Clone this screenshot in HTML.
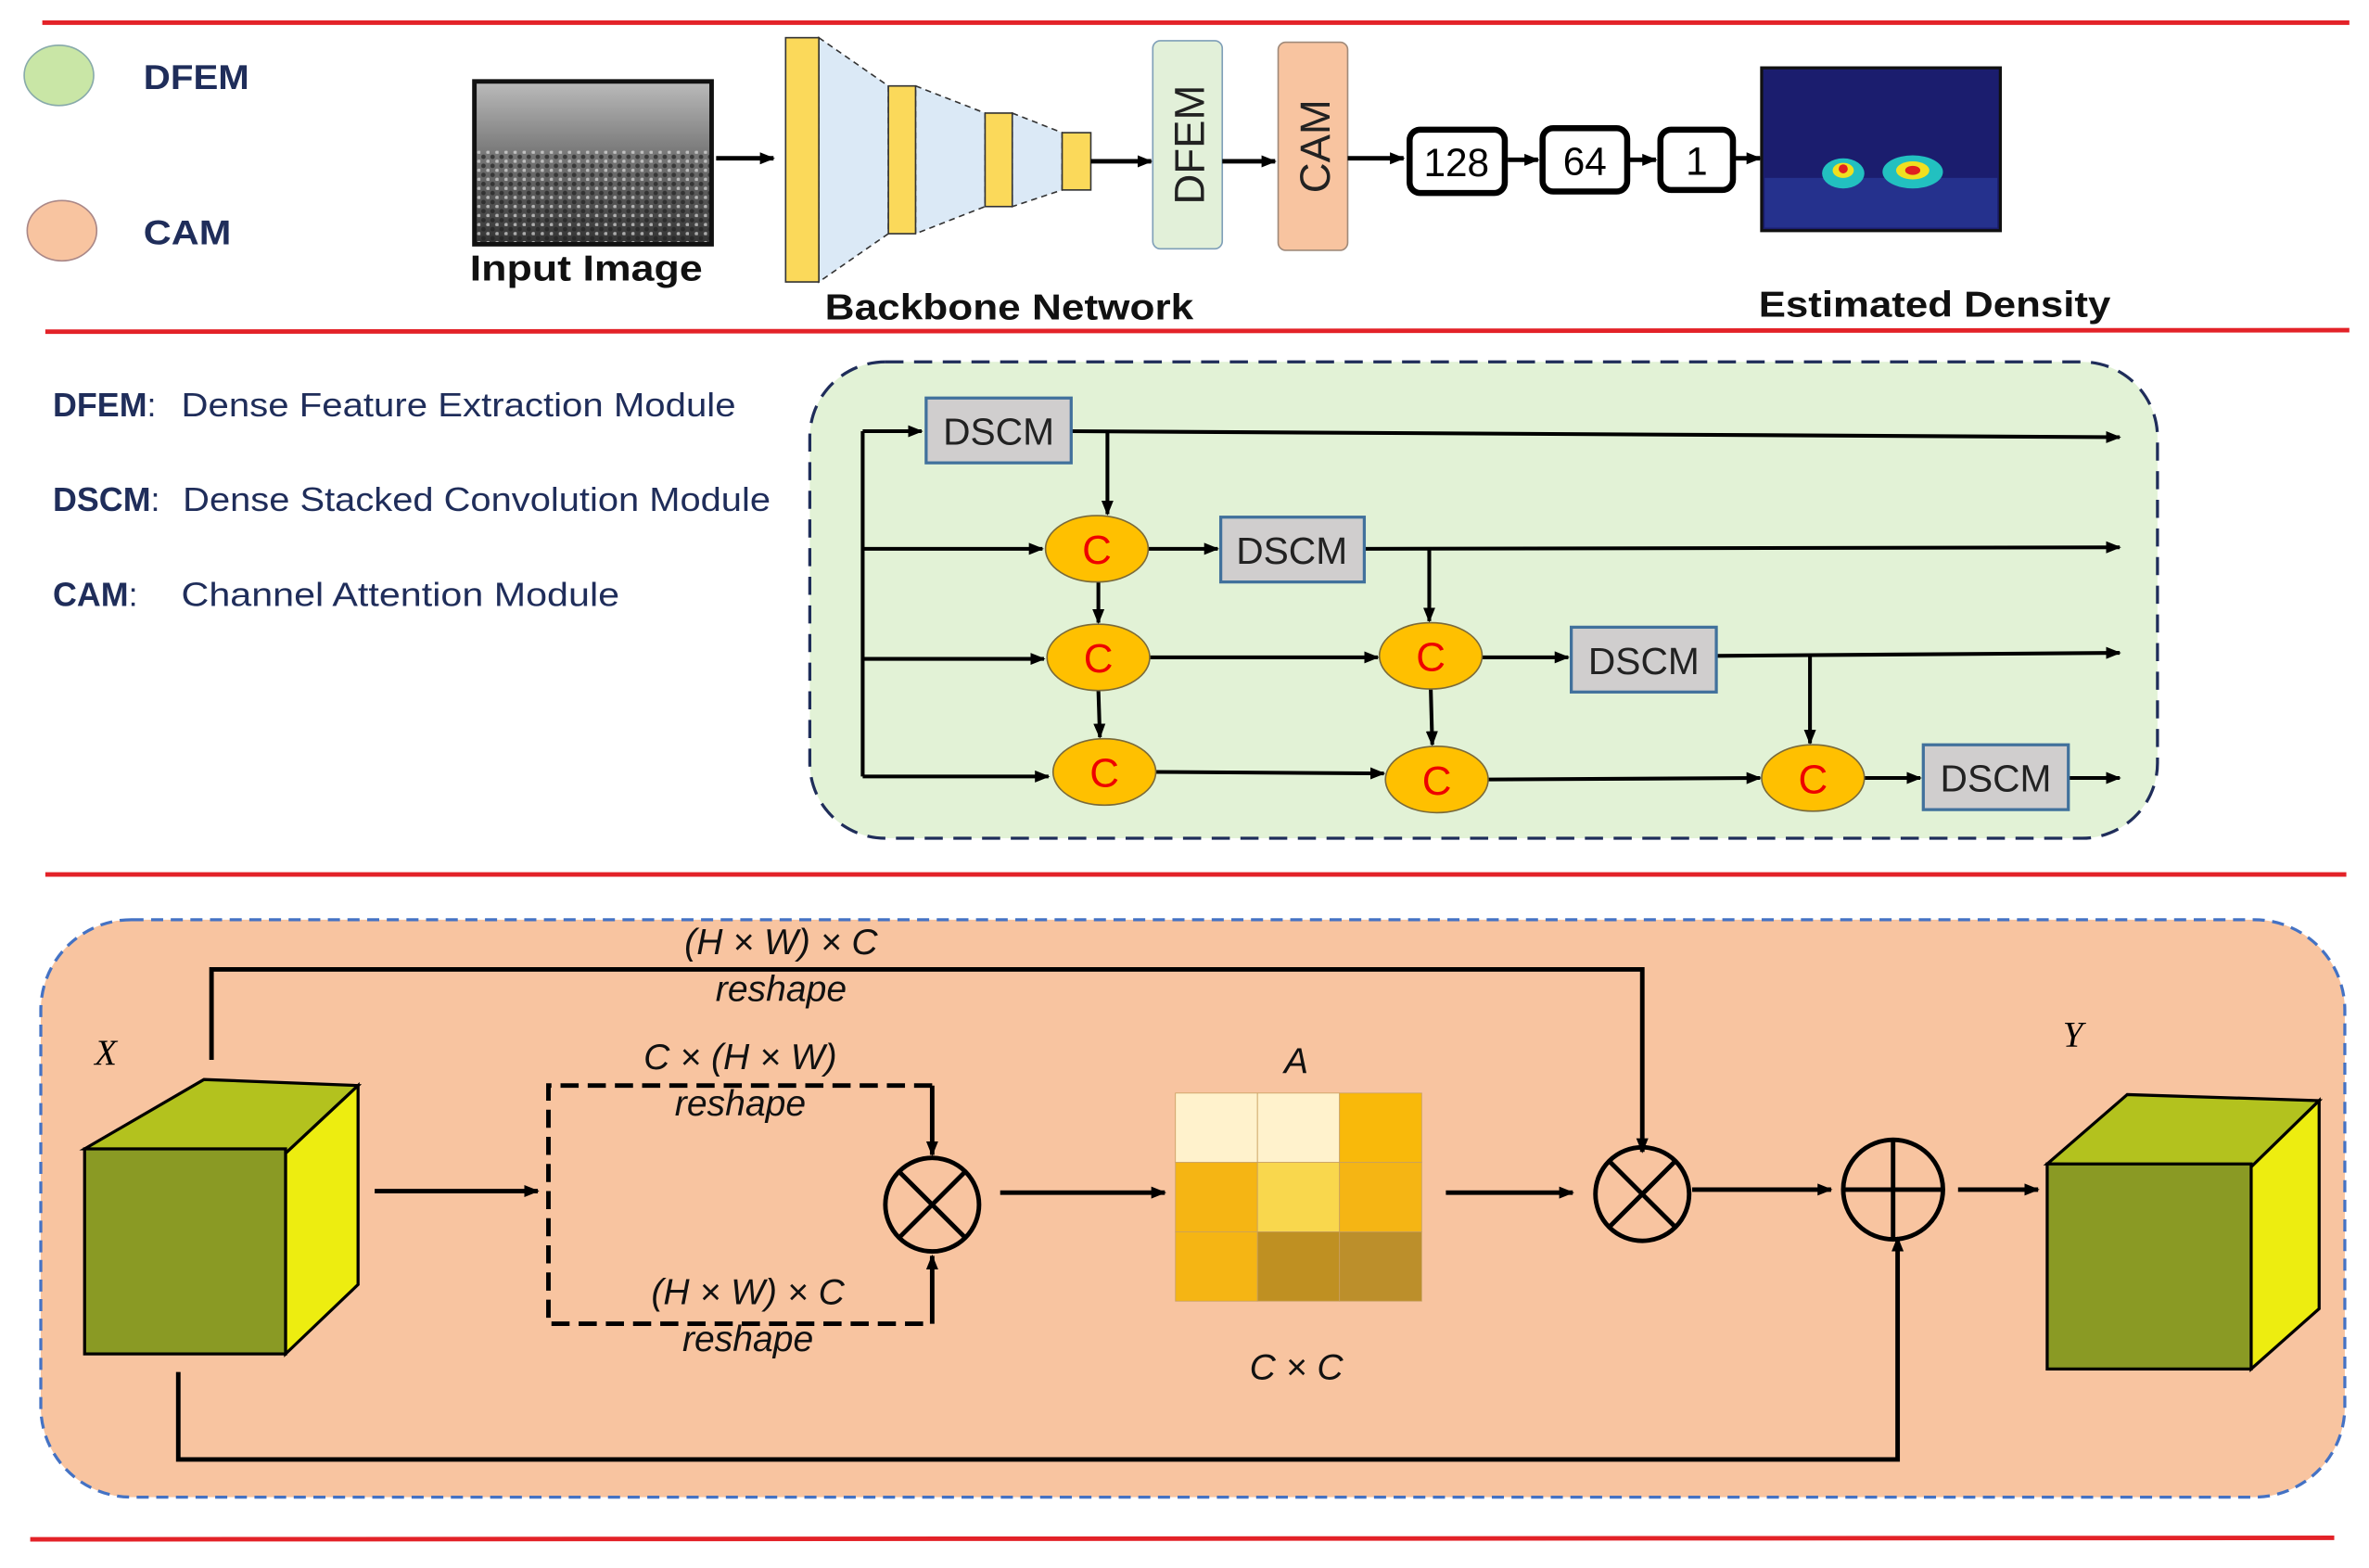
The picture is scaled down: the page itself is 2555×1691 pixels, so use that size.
<!DOCTYPE html>
<html><head><meta charset="utf-8"><style>
html,body{margin:0;padding:0;background:#fff;}
svg{display:block;}
text{font-family:"Liberation Sans",sans-serif;}
.it{font-family:"Liberation Serif",serif;font-style:italic;}
</style></head><body>
<svg width="2555" height="1691" viewBox="0 0 1568 1040" preserveAspectRatio="none" xmlns="http://www.w3.org/2000/svg">
<defs>
<marker id="ah" markerWidth="10" markerHeight="10" refX="9" refY="5" orient="auto" markerUnits="userSpaceOnUse"><path d="M0,1 L10,5 L0,9 z" fill="#000"/></marker>
<linearGradient id="crowd" x1="0" y1="0" x2="0" y2="1"><stop offset="0" stop-color="#bbb"/><stop offset="0.45" stop-color="#777"/><stop offset="1" stop-color="#333"/></linearGradient>
<pattern id="dots" width="6" height="6" patternUnits="userSpaceOnUse"><rect width="6" height="6" fill="none"/><circle cx="2" cy="2" r="1.5" fill="#222"/><circle cx="5" cy="5" r="1.2" fill="#ddd"/></pattern>
</defs>
<g stroke="#e32228" stroke-width="3">
<line x1="28" y1="15" x2="1555" y2="15"/><line x1="30" y1="220" x2="1555" y2="219"/>
<line x1="30" y1="580" x2="1553" y2="580"/><line x1="20" y1="1021" x2="1545" y2="1020"/>
</g>
<ellipse cx="39" cy="50" rx="23" ry="20" fill="#c9e6a6" stroke="#8aa" stroke-width="1"/>
<ellipse cx="41" cy="153" rx="23" ry="20" fill="#f8c4a0" stroke="#a88" stroke-width="1"/>
<text x="95" y="59" font-size="23" font-weight="bold" fill="#1f2d5a" textLength="70" lengthAdjust="spacingAndGlyphs">DFEM</text>
<text x="95" y="162" font-size="23" font-weight="bold" fill="#1f2d5a" textLength="58" lengthAdjust="spacingAndGlyphs">CAM</text>
<rect x="314" y="54" width="157" height="108" fill="url(#crowd)"/>
<rect x="314" y="100" width="157" height="62" fill="url(#dots)" opacity="0.7"/>
<rect x="314" y="54" width="157" height="108" fill="none" stroke="#111" stroke-width="3"/>
<text x="311" y="186" font-size="24" font-weight="bold" fill="#111" textLength="154" lengthAdjust="spacingAndGlyphs">Input Image</text>
<line x1="474" y1="105" x2="512" y2="105" stroke="#000" stroke-width="3" marker-end="url(#ah)"/>
<g stroke="#333" stroke-width="1" stroke-dasharray="4,3">
<path d="M542,25 L588,57 L588,155 L542,187 z" fill="#dbe9f6"/>
<path d="M606,57 L652,75 L652,137 L606,155 z" fill="#dbe9f6"/>
<path d="M670,75 L703,88 L703,126 L670,137 z" fill="#dbe9f6"/>
</g>
<g fill="#fbd95a" stroke="#333" stroke-width="1">
<rect x="520" y="25" width="22" height="162"/><rect x="588" y="57" width="18" height="98"/>
<rect x="652" y="75" width="18" height="62"/><rect x="703" y="88" width="19" height="38"/>
</g>
<text x="546" y="212" font-size="24" font-weight="bold" fill="#111" textLength="244" lengthAdjust="spacingAndGlyphs">Backbone Network</text>
<line x1="722" y1="107" x2="762" y2="107" stroke="#000" stroke-width="3" marker-end="url(#ah)"/>
<rect x="763" y="27" width="46" height="138" rx="5" fill="#e2f0d9" stroke="#7f9fb8" stroke-width="1"/>
<text transform="translate(797,96) rotate(-90)" font-size="28" text-anchor="middle" fill="#222">DFEM</text>
<line x1="809" y1="107" x2="844" y2="107" stroke="#000" stroke-width="3" marker-end="url(#ah)"/>
<rect x="846" y="28" width="46" height="138" rx="5" fill="#f8c4a0" stroke="#a08a7a" stroke-width="1"/>
<text transform="translate(880,97) rotate(-90)" font-size="28" text-anchor="middle" fill="#222">CAM</text>
<line x1="892" y1="105" x2="929" y2="105" stroke="#000" stroke-width="3" marker-end="url(#ah)"/>
<rect x="933" y="86" width="63" height="42" rx="7" fill="#fff" stroke="#000" stroke-width="4"/>
<text x="964" y="117" font-size="26" text-anchor="middle">128</text>
<line x1="998" y1="106" x2="1018" y2="106" stroke="#000" stroke-width="3" marker-end="url(#ah)"/>
<rect x="1021" y="85" width="56" height="42" rx="7" fill="#fff" stroke="#000" stroke-width="4"/>
<text x="1049" y="116" font-size="26" text-anchor="middle">64</text>
<line x1="1078" y1="106" x2="1096" y2="106" stroke="#000" stroke-width="3" marker-end="url(#ah)"/>
<rect x="1099" y="86" width="48" height="40" rx="7" fill="#fff" stroke="#000" stroke-width="4"/>
<text x="1123" y="116" font-size="26" text-anchor="middle">1</text>
<line x1="1148" y1="105" x2="1165" y2="105" stroke="#000" stroke-width="3" marker-end="url(#ah)"/>
<rect x="1166" y="45" width="158" height="108" fill="#1b1d6e" stroke="#111" stroke-width="2"/>
<rect x="1168" y="118" width="154" height="33" fill="#2a3a9a" opacity="0.7"/>
<ellipse cx="1220" cy="115" rx="14" ry="10" fill="#22c0c0"/><ellipse cx="1220" cy="113" rx="7" ry="5" fill="#f0e020"/><circle cx="1220" cy="112" r="3" fill="#e02020"/>
<ellipse cx="1266" cy="114" rx="20" ry="11" fill="#22c0c0"/><ellipse cx="1266" cy="113" rx="11" ry="6" fill="#f0e020"/><ellipse cx="1266" cy="113" rx="5" ry="3" fill="#e02020"/>
<text x="1164" y="210" font-size="24" font-weight="bold" fill="#111" textLength="233" lengthAdjust="spacingAndGlyphs">Estimated Density</text>
<g font-size="22" fill="#1f2d5a">
<text x="35" y="276" font-weight="bold">DFEM<tspan font-weight="normal">:</tspan></text>
<text x="120" y="276" textLength="367" lengthAdjust="spacingAndGlyphs">Dense Feature Extraction Module</text>
<text x="35" y="339" font-weight="bold">DSCM<tspan font-weight="normal">:</tspan></text>
<text x="121" y="339" textLength="389" lengthAdjust="spacingAndGlyphs">Dense Stacked Convolution Module</text>
<text x="35" y="402" font-weight="bold">CAM<tspan font-weight="normal">:</tspan></text>
<text x="120" y="402" textLength="290" lengthAdjust="spacingAndGlyphs">Channel Attention Module</text>
</g>
<rect x="536" y="240" width="892" height="316" rx="50" fill="#e2f2d6" stroke="#1f2d5a" stroke-width="2" stroke-dasharray="12,7"/>
<g stroke="#000" stroke-width="2.5" fill="none">
<polyline points="571,286 571,515"/>
<line x1="571" y1="286" x2="610" y2="286" marker-end="url(#ah)"/>
<line x1="571" y1="364" x2="690" y2="364" marker-end="url(#ah)"/>
<line x1="571" y1="437" x2="691" y2="437" marker-end="url(#ah)"/>
<line x1="571" y1="515" x2="694" y2="515" marker-end="url(#ah)"/>
<line x1="709" y1="286" x2="1403" y2="290" marker-end="url(#ah)"/>
<line x1="733" y1="286" x2="733" y2="341" marker-end="url(#ah)"/>
<line x1="760" y1="364" x2="806" y2="364" marker-end="url(#ah)"/>
<line x1="903" y1="364" x2="1403" y2="363" marker-end="url(#ah)"/>
<line x1="946" y1="364" x2="946" y2="412" marker-end="url(#ah)"/>
<line x1="727" y1="386" x2="727" y2="413" marker-end="url(#ah)"/>
<line x1="727" y1="458" x2="728" y2="489" marker-end="url(#ah)"/>
<line x1="761" y1="436" x2="912" y2="436" marker-end="url(#ah)"/>
<line x1="947" y1="457" x2="948" y2="494" marker-end="url(#ah)"/>
<line x1="981" y1="436" x2="1038" y2="436" marker-end="url(#ah)"/>
<line x1="1136" y1="435" x2="1403" y2="433" marker-end="url(#ah)"/>
<line x1="1198" y1="435" x2="1198" y2="493" marker-end="url(#ah)"/>
<line x1="765" y1="512" x2="916" y2="513" marker-end="url(#ah)"/>
<line x1="985" y1="517" x2="1165" y2="516" marker-end="url(#ah)"/>
<line x1="1234" y1="516" x2="1271" y2="516" marker-end="url(#ah)"/>
<line x1="1369" y1="516" x2="1403" y2="516" marker-end="url(#ah)"/>
</g>
<g fill="#d0cece" stroke="#41719c" stroke-width="2">
<rect x="613" y="264" width="96" height="43"/><rect x="808" y="343" width="95" height="43"/>
<rect x="1040" y="416" width="96" height="43"/><rect x="1273" y="494" width="96" height="43"/>
</g>
<g font-size="25" text-anchor="middle" fill="#222">
<text x="661" y="295">DSCM</text><text x="855" y="374">DSCM</text>
<text x="1088" y="447">DSCM</text><text x="1321" y="525">DSCM</text>
</g>
<g fill="#ffc000" stroke="#7a6a3a" stroke-width="1">
<ellipse cx="726" cy="364" rx="34" ry="22"/><ellipse cx="727" cy="436" rx="34" ry="22"/>
<ellipse cx="731" cy="512" rx="34" ry="22"/><ellipse cx="947" cy="435" rx="34" ry="22"/>
<ellipse cx="951" cy="517" rx="34" ry="22"/><ellipse cx="1200" cy="516" rx="34" ry="22"/>
</g>
<g font-size="27" text-anchor="middle" fill="#e00">
<text x="726" y="374">C</text><text x="727" y="446">C</text><text x="731" y="522">C</text>
<text x="947" y="445">C</text><text x="951" y="527">C</text><text x="1200" y="526">C</text>
</g>
<rect x="27" y="610" width="1525" height="383" rx="60" fill="#f8c4a0" stroke="#4472c4" stroke-width="2" stroke-dasharray="8,5"/>
<g stroke="#000" stroke-width="2">
<path d="M56,762 L135,716 L237,720 L189,765 z" fill="#b3c21e"/>
<path d="M189,765 L237,720 L237,852 L189,898 z" fill="#eded10"/>
<rect x="56" y="762" width="133" height="136" fill="#8a9a24"/>
</g>
<text x="70" y="706" class="it" font-size="24" text-anchor="middle">X</text>
<g stroke="#000" stroke-width="2">
<path d="M1355,772 L1408,726 L1535,730 L1490,774 z" fill="#b3c21e"/>
<path d="M1490,774 L1535,730 L1535,868 L1490,908 z" fill="#eded10"/>
<rect x="1355" y="772" width="135" height="136" fill="#8a9a24"/>
</g>
<text x="1372" y="694" class="it" font-size="24" text-anchor="middle">Y</text>
<g stroke="#000" stroke-width="3" fill="none">
<polyline points="140,703 140,643 1087,643 1087,764" marker-end="url(#ah)"/>
<line x1="248" y1="790" x2="356" y2="790" marker-end="url(#ah)"/>
<polyline points="617,720 363,720 363,878 617,878" stroke-dasharray="12,6"/>
<line x1="617" y1="720" x2="617" y2="766" marker-end="url(#ah)"/>
<line x1="617" y1="878" x2="617" y2="833" marker-end="url(#ah)"/>
<line x1="662" y1="791" x2="771" y2="791" marker-end="url(#ah)"/>
<line x1="957" y1="791" x2="1041" y2="791" marker-end="url(#ah)"/>
<line x1="1120" y1="789" x2="1212" y2="789" marker-end="url(#ah)"/>
<line x1="1296" y1="789" x2="1349" y2="789" marker-end="url(#ah)"/>
<polyline points="118,910 118,968 1256,968 1256,821" marker-end="url(#ah)"/>
<circle cx="617" cy="799" r="31"/><line x1="595" y1="777" x2="639" y2="821"/><line x1="639" y1="777" x2="595" y2="821"/>
<circle cx="1087" cy="792" r="31"/><line x1="1065" y1="770" x2="1109" y2="814"/><line x1="1109" y1="770" x2="1065" y2="814"/>
<circle cx="1253" cy="789" r="33"/><line x1="1220" y1="789" x2="1286" y2="789"/><line x1="1253" y1="756" x2="1253" y2="822"/>
</g>
<g class="it" font-size="24" text-anchor="middle" fill="#111">
<text x="517" y="633">(H × W) × C</text>
<text x="517" y="664">reshape</text>
<text x="490" y="709">C × (H × W)</text>
<text x="490" y="740">reshape</text>
<text x="495" y="865">(H × W) × C</text>
<text x="495" y="896">reshape</text>
<text x="858" y="712">A</text>
<text x="858" y="915">C × C</text>
</g>
<g stroke="#c8a060" stroke-width="0.5">
<rect x="778" y="725" width="54.3" height="46" fill="#fff2cc"/><rect x="832.3" y="725" width="54.3" height="46" fill="#fff2cc"/><rect x="886.6" y="725" width="54.4" height="46" fill="#f9b90a"/>
<rect x="778" y="771" width="54.3" height="46" fill="#f5b514"/><rect x="832.3" y="771" width="54.3" height="46" fill="#f9d74d"/><rect x="886.6" y="771" width="54.4" height="46" fill="#f5b514"/>
<rect x="778" y="817" width="54.3" height="46" fill="#f5b514"/><rect x="832.3" y="817" width="54.3" height="46" fill="#bf9022"/><rect x="886.6" y="817" width="54.4" height="46" fill="#bc8f2b"/>
</g>
</svg>
</body></html>
